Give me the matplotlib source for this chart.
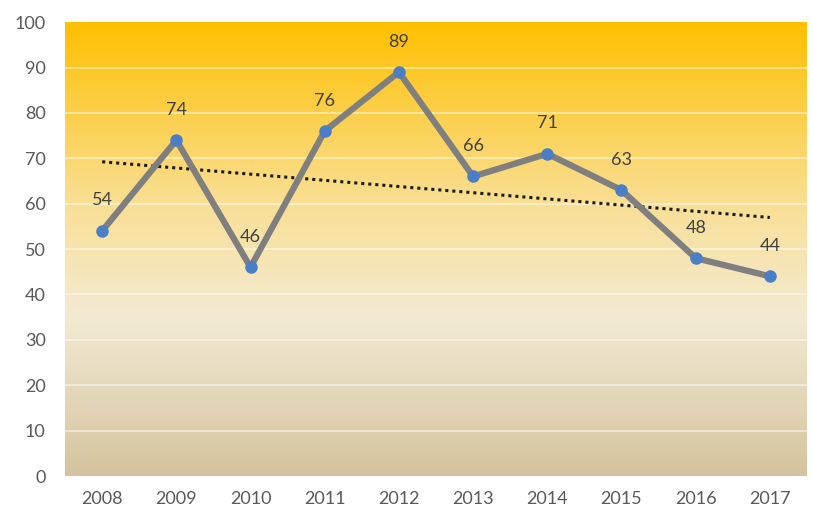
import numpy as np
import matplotlib.pyplot as plt
from matplotlib.colors import LinearSegmentedColormap

years = ['2008', '2009', '2010', '2011', '2012', '2013', '2014', '2015', '2016', '2017']
values = [54, 74, 46, 76, 89, 66, 71, 63, 48, 44]

plt.rcParams['font.family'] = ['Lato', 'DejaVu Sans']

fig = plt.figure(figsize=(8.13, 5.15), dpi=100)
ax = fig.add_axes([0.08, 0.0757, 0.9126, 0.8813])

x = np.arange(len(years))

# background gradient, bottom (0) -> top (100)
cmap = LinearSegmentedColormap.from_list('bg', [
    (0.0, '#d4c39e'),
    (0.35, '#f3ead3'),
    (0.6, '#f9df95'),
    (1.0, '#ffc000'),
])
grad = np.linspace(0, 1, 256).reshape(-1, 1)
ax.imshow(grad, cmap=cmap, origin='lower', aspect='auto',
          extent=[-0.5, len(years) - 0.5, 0, 100], zorder=0)

for yv in range(10, 100, 10):
    ax.axhline(yv, color='white', alpha=0.55, lw=1.2, zorder=1)

# linear trend
k, b = np.polyfit(x, values, 1)
ax.plot(x, k * x + b, color='#1a1a1a', lw=2.2, ls=(0, (1, 1.3)), zorder=2)

ax.plot(x, values, color='#7f7f7f', lw=4.5, zorder=3,
        marker='o', markersize=8, markerfacecolor='#4a7ec6',
        markeredgecolor='#4a7ec6')

for xi, v in zip(x, values):
    ax.annotate(str(v), (xi, v), xytext=(0, 22), textcoords='offset points',
                ha='center', va='center', fontsize=13, color='#404040', zorder=4)

ax.set_xlim(-0.5, len(years) - 0.5)
ax.set_ylim(0, 100)
ax.set_yticks(range(0, 101, 10))
ax.set_xticks(x)
ax.set_xticklabels(years)
ax.tick_params(length=0, labelsize=13, labelcolor='#595959')
ax.tick_params(axis='y', pad=14)
ax.tick_params(axis='x', pad=11)
for s in ax.spines.values():
    s.set_visible(False)

fig.savefig('out.png', dpi=100)
